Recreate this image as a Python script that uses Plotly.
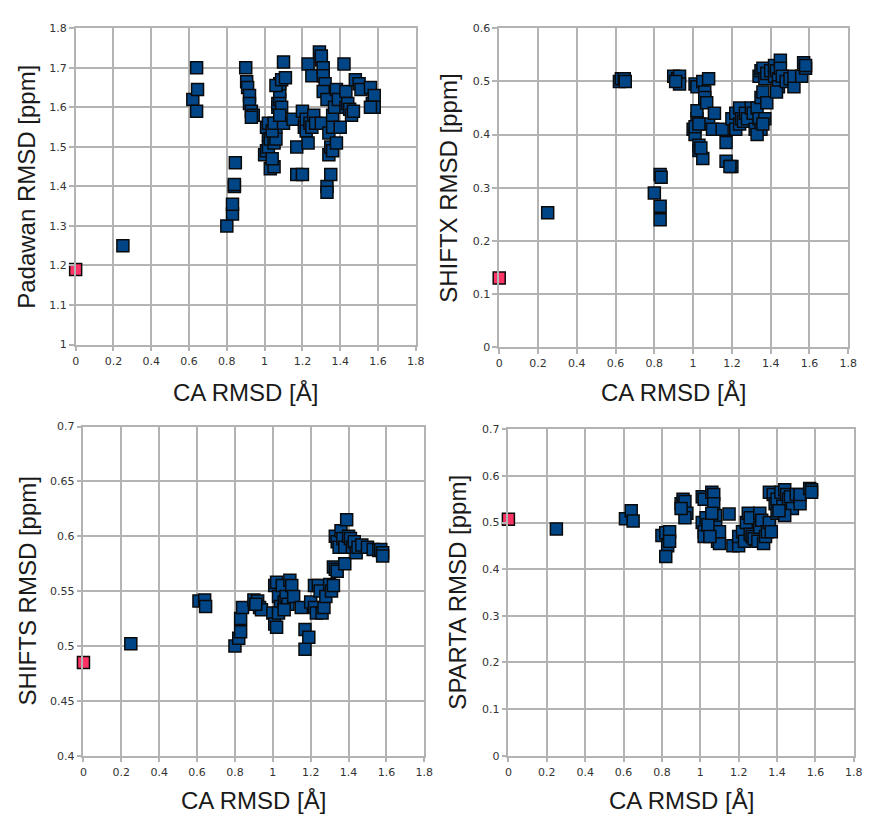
import plotly.graph_objects as go

# ---------------- data ----------------
ref_x = [0.0]
padawan_ref = [1.19]
shiftx_ref = [0.13]
shifts_ref = [0.485]
sparta_ref = [0.507]

padawan_x = [0.25, 0.62, 0.64, 0.645, 0.64, 0.80, 0.83, 0.83, 0.84, 0.84, 0.845,
             0.90, 0.905, 0.91, 0.92, 0.92, 0.93, 0.94, 0.93,
             1.00, 1.01, 1.02, 1.02, 1.01, 1.02, 1.03, 1.05, 1.04, 1.03, 1.05, 1.06, 1.06, 1.04,
             1.05, 1.07, 1.07, 1.08, 1.08, 1.08, 1.06, 1.09, 1.10, 1.11, 1.09, 1.10, 1.08,
             1.15, 1.17, 1.17, 1.20, 1.20, 1.21, 1.22, 1.23, 1.22, 1.24, 1.25, 1.26, 1.27,
             1.23, 1.25, 1.29, 1.30, 1.30, 1.31, 1.31, 1.32, 1.31, 1.33, 1.30, 1.33, 1.33,
             1.35, 1.34, 1.35, 1.36, 1.34, 1.36, 1.36, 1.37, 1.38, 1.39, 1.38, 1.40, 1.42,
             1.43, 1.43, 1.44, 1.45, 1.46, 1.47, 1.48, 1.50, 1.51, 1.56, 1.57, 1.58, 1.58, 1.56]
padawan_y = [1.25, 1.62, 1.70, 1.645, 1.59, 1.30, 1.33, 1.355, 1.40, 1.405, 1.46,
             1.70, 1.665, 1.65, 1.63, 1.61, 1.59, 1.58, 1.575,
             1.48, 1.49, 1.50, 1.53, 1.55, 1.56, 1.445, 1.45, 1.47, 1.52, 1.51, 1.52, 1.55, 1.54,
             1.56, 1.60, 1.61, 1.62, 1.64, 1.66, 1.655, 1.67, 1.715, 1.675, 1.60, 1.56, 1.58,
             1.57, 1.50, 1.43, 1.43, 1.59, 1.55, 1.54, 1.51, 1.57, 1.56, 1.55, 1.58, 1.56,
             1.71, 1.68, 1.74, 1.72, 1.73, 1.70, 1.68, 1.66, 1.64, 1.62, 1.56, 1.40, 1.385,
             1.43, 1.48, 1.50, 1.49, 1.535, 1.55, 1.58, 1.60, 1.645, 1.62, 1.51, 1.55, 1.71,
             1.64, 1.60, 1.61, 1.595, 1.58, 1.59, 1.67, 1.66, 1.645, 1.65, 1.61, 1.63, 1.60, 1.60]

shiftx_x = [0.25, 0.62, 0.63, 0.645, 0.65, 0.80, 0.83, 0.835, 0.83, 0.83,
            0.90, 0.92, 0.93, 0.93, 0.91,
            1.00, 1.01, 1.02, 1.02, 1.01, 1.02, 1.03, 1.03, 1.05, 1.04, 1.05, 1.06, 1.06, 1.07,
            1.08, 1.08, 1.10, 1.11, 1.01, 1.03,
            1.15, 1.17, 1.17, 1.20, 1.19, 1.20, 1.22, 1.22, 1.24, 1.24, 1.25, 1.26, 1.27, 1.28,
            1.30, 1.31, 1.32, 1.33, 1.34, 1.35, 1.35, 1.36, 1.37, 1.38, 1.33, 1.36,
            1.34, 1.35, 1.36, 1.37, 1.38, 1.40, 1.42, 1.42, 1.43, 1.44, 1.45, 1.45, 1.44, 1.43,
            1.46, 1.48, 1.50, 1.52, 1.52, 1.56, 1.57, 1.58, 1.58]
shiftx_y = [0.253, 0.50, 0.505, 0.505, 0.50, 0.29, 0.325, 0.32, 0.265, 0.24,
            0.51, 0.505, 0.51, 0.495, 0.50,
            0.41, 0.40, 0.43, 0.445, 0.495, 0.49, 0.38, 0.37, 0.355, 0.375, 0.50, 0.48, 0.47, 0.46,
            0.505, 0.42, 0.41, 0.44, 0.415, 0.42,
            0.41, 0.385, 0.35, 0.34, 0.34, 0.43, 0.44, 0.41, 0.45, 0.42, 0.43, 0.425, 0.44, 0.43,
            0.45, 0.44, 0.41, 0.45, 0.43, 0.41, 0.47, 0.48, 0.43, 0.46, 0.40, 0.42,
            0.51, 0.52, 0.525, 0.505, 0.515, 0.52, 0.51, 0.53, 0.52, 0.505, 0.54, 0.525, 0.49, 0.48,
            0.51, 0.50, 0.505, 0.49, 0.51, 0.51, 0.535, 0.525, 0.53]

shifts_x = [0.25, 0.61, 0.64, 0.645, 0.80, 0.82, 0.83, 0.83, 0.84,
            0.90, 0.92, 0.93, 0.94, 0.91,
            1.00, 1.01, 1.02, 1.01, 1.02, 1.03, 1.04, 1.05, 1.06, 1.07, 1.08, 1.09, 1.10, 1.11,
            1.03, 1.06,
            1.15, 1.17, 1.17, 1.19, 1.20, 1.22, 1.22, 1.23, 1.24, 1.25, 1.26, 1.27, 1.28, 1.30,
            1.31, 1.32, 1.32, 1.33, 1.34, 1.38,
            1.33, 1.34, 1.35, 1.36, 1.37, 1.38, 1.39, 1.40, 1.41, 1.42, 1.43, 1.44, 1.45, 1.47,
            1.50, 1.53, 1.56, 1.57, 1.58, 1.58]
shifts_y = [0.502, 0.541, 0.542, 0.536, 0.500, 0.507, 0.513, 0.525, 0.535,
            0.542, 0.541, 0.535, 0.533, 0.538,
            0.530, 0.520, 0.517, 0.555, 0.558, 0.545, 0.536, 0.555, 0.540, 0.545, 0.538, 0.560,
            0.555, 0.545, 0.530, 0.533,
            0.535, 0.515, 0.497, 0.508, 0.540, 0.555, 0.535, 0.530, 0.555, 0.550, 0.530, 0.535,
            0.545, 0.556, 0.550, 0.555, 0.572, 0.570, 0.568, 0.575,
            0.600, 0.595, 0.590, 0.605, 0.598, 0.590, 0.615, 0.600, 0.598, 0.590, 0.595, 0.585,
            0.590, 0.592, 0.590, 0.588, 0.587, 0.588, 0.585, 0.582]

sparta_x = [0.25, 0.61, 0.64, 0.65, 0.80, 0.82, 0.84, 0.83, 0.82, 0.84,
            0.90, 0.91, 0.92, 0.93, 0.92, 0.90,
            1.01, 1.02, 1.01, 1.02, 1.02, 1.03, 1.06, 1.07, 1.07, 1.08, 1.08, 1.09, 1.10, 1.10,
            1.04, 1.06, 1.05,
            1.15, 1.17, 1.20, 1.20, 1.22, 1.23, 1.24, 1.25, 1.26, 1.26, 1.27, 1.28, 1.30, 1.31,
            1.31, 1.32, 1.33, 1.34, 1.35, 1.36, 1.37,
            1.36, 1.38, 1.39, 1.40, 1.40, 1.42, 1.43, 1.44, 1.45, 1.46, 1.47, 1.48, 1.50, 1.52,
            1.52, 1.57, 1.58, 1.58, 1.44, 1.41]
sparta_y = [0.486, 0.508, 0.525, 0.503, 0.472, 0.478, 0.480, 0.450, 0.427, 0.460,
            0.540, 0.550, 0.545, 0.520, 0.510, 0.530,
            0.555, 0.550, 0.500, 0.480, 0.470, 0.510, 0.565, 0.560, 0.540, 0.515, 0.490, 0.460,
            0.455, 0.480, 0.495, 0.520, 0.470,
            0.518, 0.450, 0.450, 0.470, 0.480, 0.460, 0.500, 0.520, 0.510, 0.475, 0.470, 0.465,
            0.460, 0.490, 0.520, 0.505, 0.455, 0.470, 0.480, 0.500, 0.480,
            0.565, 0.560, 0.540, 0.550, 0.520, 0.565, 0.535, 0.570, 0.560, 0.550, 0.555, 0.530,
            0.560, 0.540, 0.560, 0.573, 0.570, 0.565, 0.515, 0.525]

x_ticks = [0, 0.2, 0.4, 0.6, 0.8, 1, 1.2, 1.4, 1.6, 1.8]
x_tick_text = ["0", "0.2", "0.4", "0.6", "0.8", "1", "1.2", "1.4", "1.6", "1.8"]
padawan_ticks = [1, 1.1, 1.2, 1.3, 1.4, 1.5, 1.6, 1.7, 1.8]
padawan_tick_text = ["1", "1.1", "1.2", "1.3", "1.4", "1.5", "1.6", "1.7", "1.8"]
shiftx_ticks = [0, 0.1, 0.2, 0.3, 0.4, 0.5, 0.6]
shiftx_tick_text = ["0", "0.1", "0.2", "0.3", "0.4", "0.5", "0.6"]
shifts_ticks = [0.4, 0.45, 0.5, 0.55, 0.6, 0.65, 0.7]
shifts_tick_text = ["0.4", "0.45", "0.5", "0.55", "0.6", "0.65", "0.7"]
sparta_ticks = [0, 0.1, 0.2, 0.3, 0.4, 0.5, 0.6, 0.7]
sparta_tick_text = ["0", "0.1", "0.2", "0.3", "0.4", "0.5", "0.6", "0.7"]

x_title = "CA RMSD [Å]"
y_titles = ["Padawan RMSD [ppm]", "SHIFTX RMSD [ppm]", "SHIFTS RMSD [ppm]", "SPARTA RMSD [ppm]"]

# ---------------- style ----------------
BLUE = "#004586"
RED = "#ff3366"
GRID = "#b3b3b3"
TICKFONT = dict(family="DejaVu Sans", size=11, color="#333333")
TITLEFONT = dict(family="Liberation Sans", size=24, color="#1a1a1a")
MSIZE = 12

panels = [
    dict(xs=padawan_x, ys=padawan_y, ry=padawan_ref, ticks=padawan_ticks, tt=padawan_tick_text,
         rng=[1, 1.8], xd=[0.0834, 0.4794], yd=[0.581, 0.9724], ytoff=50, xtoff=49),
    dict(xs=shiftx_x, ys=shiftx_y, ry=shiftx_ref, ticks=shiftx_ticks, tt=shiftx_tick_text,
         rng=[0, 0.6], xd=[0.5765, 0.9828], yd=[0.5777, 0.9724], ytoff=51, xtoff=46),
    dict(xs=shifts_x, ys=shifts_y, ry=shifts_ref, ticks=shifts_ticks, tt=shifts_tick_text,
         rng=[0.4, 0.7], xd=[0.0925, 0.4893], yd=[0.0722, 0.4795], ytoff=57, xtoff=46),
    dict(xs=sparta_x, ys=sparta_y, ry=sparta_ref, ticks=sparta_ticks, tt=sparta_tick_text,
         rng=[0, 0.7], xd=[0.5872, 0.9893], yd=[0.0722, 0.4762], ytoff=52, xtoff=46),
]

fig = go.Figure()
annotations = []
W, H = 872, 821

for i, p in enumerate(panels):
    n = "" if i == 0 else str(i + 1)
    xa = "x" + n
    ya = "y" + n
    fig.add_trace(go.Scatter(
        x=p["xs"], y=p["ys"], mode="markers", xaxis=xa, yaxis=ya, showlegend=False,
        marker=dict(symbol="square", size=MSIZE, color=BLUE, line=dict(color="#0a0a0a", width=1.5)),
        cliponaxis=False))
    fig.add_trace(go.Scatter(
        x=ref_x, y=p["ry"], mode="markers", xaxis=xa, yaxis=ya, showlegend=False,
        marker=dict(symbol="square", size=MSIZE, color=RED, line=dict(color="#0a0a0a", width=1.5)),
        cliponaxis=False))
    common = dict(showgrid=True, gridcolor=GRID, gridwidth=1.5, showline=True, linecolor=GRID,
                  linewidth=1.5, mirror=True, ticks="outside", ticklen=5, tickcolor=GRID,
                  tickwidth=1.5, tickfont=TICKFONT, zeroline=False, fixedrange=True)
    fig.layout["xaxis" + n] = dict(domain=p["xd"], range=[0, 1.8], tickvals=x_ticks,
                                   ticktext=x_tick_text, anchor=ya, **common)
    fig.layout["yaxis" + n] = dict(domain=p["yd"], range=p["rng"], tickvals=p["ticks"],
                                   ticktext=p["tt"], anchor=xa, **common)
    # axis titles
    xc = (p["xd"][0] + p["xd"][1]) / 2
    yb = p["yd"][0]
    annotations.append(dict(text=x_title, xref="paper", yref="paper", x=xc,
                            y=yb - p["xtoff"] / H, xanchor="center", yanchor="middle",
                            showarrow=False, font=TITLEFONT))
    yc = (p["yd"][0] + p["yd"][1]) / 2
    annotations.append(dict(text=y_titles[i], xref="paper", yref="paper",
                            x=p["xd"][0] - p["ytoff"] / W, y=yc, xanchor="center",
                            yanchor="middle", textangle=-90, showarrow=False, font=TITLEFONT))

fig.update_layout(width=W, height=H, autosize=False, margin=dict(l=0, r=0, t=0, b=0),
                  paper_bgcolor="white", plot_bgcolor="white", annotations=annotations,
                  hovermode=False)

fig.write_html("out.html", config={"displayModeBar": False},
               post_script="document.body.style.margin='0';document.body.style.overflow='hidden';")
